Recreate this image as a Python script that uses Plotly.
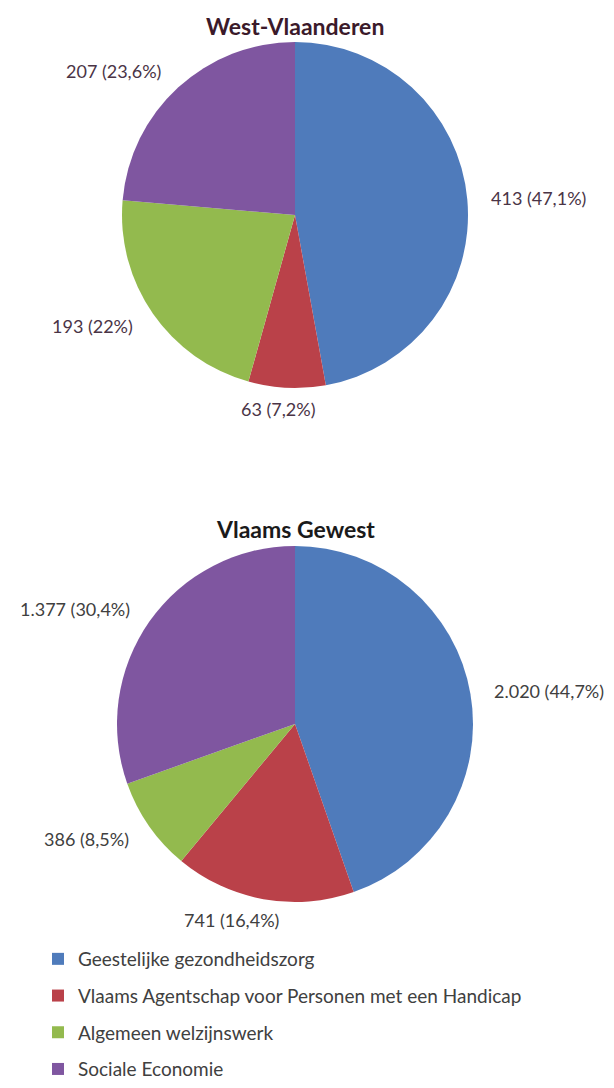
import math
import plotly.graph_objects as go

categories = [
    "Geestelijke gezondheidszorg",
    "Vlaams Agentschap voor Personen met een Handicap",
    "Algemeen welzijnswerk",
    "Sociale Economie",
]
west_vlaanderen = [413, 63, 193, 207]
vlaams_gewest = [2020, 741, 386, 1377]
titles = ["West-Vlaanderen", "Vlaams Gewest"]
colors = ["#4F7BBB", "#BA4149", "#93BA4E", "#7F56A0"]

OFF = 8                      # default page body margin
W, H = 614 - OFF, 1088 - OFF
FONT = "Lato"


def px(x, y):
    """screen pixel -> paper coords"""
    return (x - OFF) / W, 1 - (y - OFF) / H


def dom(cx, cy, r):
    x0, y1 = px(cx - r, cy - r)
    x1, y0 = px(cx + r, cy + r)
    return dict(x=[x0, x1], y=[y0, y1])


def fmt_int(v):
    return f"{v:,}".replace(",", ".")


def fmt_pct(p):
    s = f"{p * 100:.1f}"
    if s.endswith(".0"):
        s = s[:-2]
    return s.replace(".", ",") + "%"


def add_pie(fig, values, cx, cy, r, title, title_y, title_color, label_color):
    fig.add_trace(go.Pie(
        labels=categories, values=values, sort=False, direction="clockwise", rotation=0,
        marker=dict(colors=colors, line=dict(width=0)),
        textinfo="none", domain=dom(cx, cy, r), showlegend=False,
        hoverinfo="label+value+percent",
    ))
    total = sum(values)
    cum = 0
    for v in values:
        frac = v / total
        mid = (cum + frac / 2) * 2 * math.pi
        cum += frac
        sx, cy_ = math.sin(mid), math.cos(mid)
        if abs(sx) > 0.3:
            rr = r + 22
            xa = "left" if sx > 0 else "right"
            lxp = cx + rr * sx
        else:
            rr = r + 8
            xa = "center"
            lxp = cx + (rr + 170) * sx
        ya = "middle" if abs(cy_) < 0.8 else ("bottom" if cy_ > 0 else "top")
        lx, ly = px(lxp, cy - rr * cy_)
        fig.add_annotation(
            text=f"{fmt_int(v)} ({fmt_pct(frac)})", x=lx, y=ly, xref="paper", yref="paper",
            xanchor=xa, yanchor=ya, showarrow=False,
            font=dict(family=FONT, size=18, color=label_color),
        )
    tx, ty = px(cx, title_y)
    fig.add_annotation(
        text="<b>" + title + "</b>", x=tx, y=ty, xref="paper", yref="paper",
        xanchor="center", yanchor="middle", showarrow=False,
        font=dict(family=FONT, size=23, color=title_color),
    )


fig = go.Figure()
add_pie(fig, west_vlaanderen, 295, 215, 173, titles[0], 26, "#3b1a2a", "#4a3446")
add_pie(fig, vlaams_gewest, 295, 724, 178, titles[1], 529, "#1a1a1a", "#404040")

for name, col in zip(categories, colors):
    fig.add_trace(go.Scatter(
        x=[None], y=[None], mode="markers", name=name, legendgroup=name,
        marker=dict(symbol="square", size=12, color=col), showlegend=True,
    ))

lgx, _ = px(38, 0)
fig.update_layout(
    width=W, height=H, margin=dict(l=0, r=0, t=0, b=0),
    paper_bgcolor="white", plot_bgcolor="white",
    xaxis=dict(visible=False, domain=[0, 0.01]), yaxis=dict(visible=False, domain=[0, 0.01]),
    legend=dict(x=lgx, y=0, xanchor="left", yanchor="bottom",
                font=dict(family=FONT, size=19, color="#404040"),
                tracegroupgap=9, bgcolor="rgba(0,0,0,0)"),
)
fig.write_html("out.html")
